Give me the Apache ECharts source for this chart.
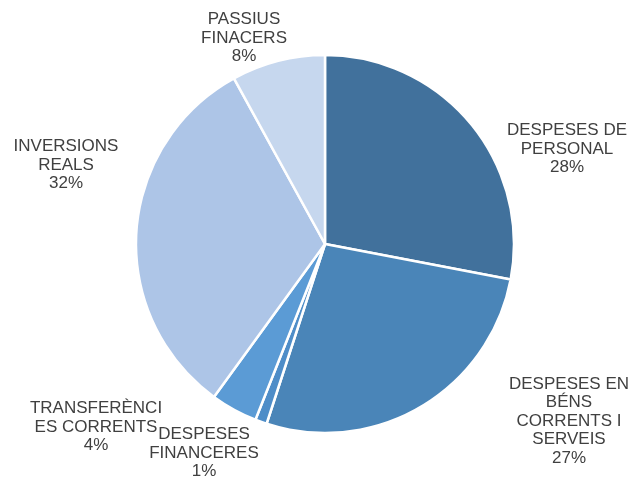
<!DOCTYPE html>
<html>
<head>
<meta charset="utf-8">
<script src="https://cdn.jsdelivr.net/npm/echarts@6/dist/echarts.min.js"></script>
<style>
  html, body { margin: 0; padding: 0; background: #ffffff; }
  #chart { width: 633px; height: 479px; }
</style>
</head>
<body>
<div id="chart"></div>
<script>
// Budget breakdown by chapter (percent of total)
const categories = [
  'DESPESES DE\nPERSONAL',
  'DESPESES EN\nBÉNS\nCORRENTS I\nSERVEIS',
  'DESPESES\nFINANCERES',
  'TRANSFERÈNCI\nES CORRENTS',
  'INVERSIONS\nREALS',
  'PASSIUS\nFINACERS'
];
const values = [28, 27, 1, 4, 32, 8];
const colors = ['#41719C', '#4A85B8', '#4E8DC8', '#5B9BD5', '#ADC5E7', '#C6D7EE'];

// Label anchor points (centre of each text block)
const labelPos = [
  [567, 149], [569, 421], [204, 453], [96, 427], [66, 165], [244, 38]
];

const chart = echarts.init(document.getElementById('chart'), null, { renderer: 'canvas' });

chart.setOption({
  animation: false,
  backgroundColor: '#ffffff',
  series: [{
    type: 'pie',
    center: [325, 244],
    radius: 189,
    startAngle: 90,
    clockwise: true,
    data: categories.map((name, i) => ({
      name: name,
      value: values[i],
      itemStyle: { color: colors[i] }
    })),
    itemStyle: { borderColor: '#ffffff', borderWidth: 2.5 },
    label: {
      show: true,
      position: 'outside',
      formatter: '{b}\n{d}%',
      color: '#404040',
      fontFamily: '"Liberation Sans", Arial, sans-serif',
      fontSize: 17,
      lineHeight: 18.5,
      align: 'center',
      overflow: 'none'
    },
    labelLine: { show: false },
    labelLayout: function (params) {
      const p = labelPos[params.dataIndex];
      return { x: p[0], y: p[1], align: 'center', verticalAlign: 'middle' };
    },
    emphasis: { disabled: true }
  }]
});
</script>
</body>
</html>
